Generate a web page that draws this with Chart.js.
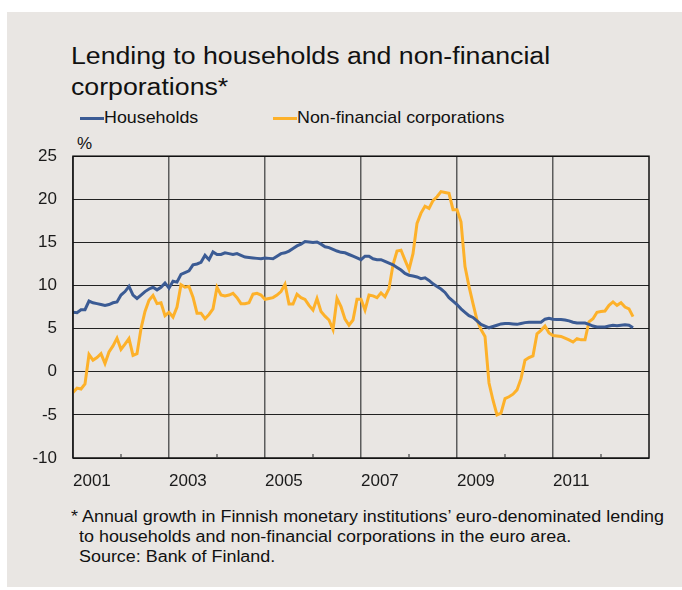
<!DOCTYPE html>
<html>
<head>
<meta charset="utf-8">
<script src="https://cdn.jsdelivr.net/npm/chart.js@4"></script>
<style>
  body { margin: 0; background: #fff; font-family: "Liberation Sans", Arial, sans-serif; color: #111; }
  #panel { position: absolute; left: 7px; top: 12px; width: 675px; height: 575px; background: #e9e6e3; }
  .txt { position: absolute; white-space: nowrap; transform-origin: left top; }
  #title { left: 71px; top: 41px; font-size: 23px; line-height: 31px; transform: scaleX(1.16); }
  .key { position: absolute; height: 3px; width: 24px; top: 117px; }
  .lbl { font-size: 17px; line-height: 20px; top: 108px; transform: scaleX(1.05); }
  #pct { left: 77px; top: 134px; font-size: 17px; line-height: 20px; }
  .note { font-size: 16px; line-height: 20px; transform: scaleX(1.12); }
  #wrap { position: absolute; left: 0; top: 130px; width: 682px; height: 370px; }
</style>
</head>
<body>
<div id="panel"></div>
<div id="title" class="txt">Lending to households and non-financial<br>corporations*</div>
<div class="key" style="left:80px;background:#3b5b94"></div>
<div class="txt lbl" style="left:104px">Households</div>
<div class="key" style="left:273px;background:#fdb12a"></div>
<div class="txt lbl" style="left:297px">Non-financial corporations</div>
<div id="pct" class="txt">%</div>
<div id="wrap"><canvas id="lending"></canvas></div>
<div class="txt note" style="left:71px;top:507px">* Annual growth in Finnish monetary institutions’ euro-denominated lending</div>
<div class="txt note" style="left:79px;top:527px">to households and non-financial corporations in the euro area.</div>
<div class="txt note" style="left:79px;top:547px">Source: Bank of Finland.</div>

<script>
// monthly series, January 2001 onwards
const startYear = 2001;

const households = [
  6.9, 6.85, 7.2, 7.2, 8.2, 8.0, 7.9, 7.8, 7.7, 7.8, 8.0, 8.1,
  8.9, 9.3, 9.9, 8.9, 8.5, 8.9, 9.3, 9.6, 9.8, 9.5, 9.8, 10.3,
  9.7, 10.5, 10.4, 11.3, 11.5, 11.7, 12.4, 12.5, 12.7, 13.5, 13.0, 13.9,
  13.6, 13.6, 13.8, 13.7, 13.6, 13.7, 13.5, 13.3, 13.25, 13.2, 13.15, 13.1,
  13.2, 13.15, 13.1, 13.4, 13.7, 13.8, 14.0, 14.3, 14.6, 14.8, 15.1, 15.05,
  15.0, 15.05, 14.8, 14.5, 14.4, 14.2, 14.0, 13.85, 13.8, 13.6, 13.4, 13.2,
  13.0, 13.4, 13.4, 13.1, 13.0, 13.0, 12.8, 12.6, 12.4, 12.1, 11.8, 11.4,
  11.2, 11.1, 11.0, 10.8, 10.9, 10.6, 10.2, 9.9, 9.6, 9.2, 8.6, 8.2,
  7.8, 7.3, 6.9, 6.5, 6.3, 5.9, 5.5, 5.3, 5.1, 5.25, 5.4, 5.55,
  5.6, 5.6, 5.55, 5.5, 5.6, 5.7, 5.75, 5.75, 5.75, 5.75, 6.1, 6.2,
  6.1, 6.05, 6.05, 6.0, 5.9, 5.75, 5.65, 5.65, 5.65, 5.5, 5.3, 5.2,
  5.2, 5.2, 5.3, 5.4, 5.35, 5.4, 5.45, 5.4, 5.1
];

const corporations = [
  -2.4, -1.9, -2.0, -1.4, 2.0, 1.35, 1.65, 2.1, 0.95, 2.3, 3.0, 3.9,
  2.6, 3.2, 3.85, 1.9, 2.1, 5.0, 7.0, 8.3, 8.85, 7.9, 8.0, 6.5,
  6.9, 6.35, 7.5, 10.1, 9.8, 9.9, 8.65, 6.8, 6.8, 6.15, 6.65, 7.3,
  9.8, 8.9, 8.8, 8.9, 9.1, 8.6, 7.9, 7.9, 8.0, 9.0, 9.1, 8.9,
  8.4, 8.5, 8.6, 8.9, 9.3, 10.15, 7.85, 7.85, 9.0, 8.6, 8.4, 7.7,
  7.15, 8.5, 7.0, 6.45, 6.0, 4.9, 8.5, 7.55, 6.1, 5.4, 6.0, 8.4,
  8.4, 7.15, 8.9, 8.8, 8.6, 9.15, 8.7, 9.65, 12.4, 14.0, 14.1, 12.95,
  11.85, 13.7, 17.2, 18.4, 19.2, 18.95, 19.85, 20.3, 20.9, 20.8, 20.7, 18.8,
  18.8, 17.4, 12.2, 9.9, 7.9, 6.0, 4.9, 4.1, -1.3, -3.3, -5.0, -4.8,
  -3.1, -2.9, -2.6, -2.1, -0.8, 1.35, 1.65, 1.85, 4.4, 4.8, 5.3, 4.5,
  4.2, 4.15, 4.1, 3.9, 3.7, 3.45, 3.85, 3.7, 3.7, 5.8, 6.15, 6.9,
  7.0, 7.05, 7.7, 8.1, 7.7, 8.0, 7.5, 7.3, 6.4
];

const yearTicks = [2001, 2003, 2005, 2007, 2009, 2011];

const toPoints = arr => arr.map((v, i) => ({ x: startYear + i / 12, y: v }));

// box round the plot and the short marks for the in-between years
const frame = {
  id: 'frame',
  afterDraw(chart) {
    const { ctx, chartArea: a, scales } = chart;
    ctx.save();
    ctx.strokeStyle = '#111';
    ctx.lineWidth = 1.5;
    ctx.strokeRect(a.left, a.top, a.right - a.left, a.bottom - a.top);
    ctx.lineWidth = 1.2;
    ctx.strokeStyle = '#444';
    for (let yr = 2002; yr < 2013; yr += 2) {
      const px = scales.x.getPixelForValue(yr);
      ctx.beginPath();
      ctx.moveTo(px, a.bottom);
      ctx.lineTo(px, a.bottom - 4);
      ctx.stroke();
    }
    ctx.restore();
  }
};

Chart.defaults.font.family = '"Liberation Sans", Arial, sans-serif';
Chart.defaults.font.size = 17;
Chart.defaults.color = '#1a1a1a';

new Chart(document.getElementById('lending'), {
  type: 'line',
  data: {
    datasets: [{
      label: 'Households',
      data: toPoints(households),
      borderColor: '#3b5b94',
      borderWidth: 3,
      pointRadius: 0
    }, {
      label: 'Non-financial corporations',
      data: toPoints(corporations),
      borderColor: '#fdb12a',
      borderWidth: 3,
      pointRadius: 0
    }]
  },
  options: {
    responsive: true,
    maintainAspectRatio: false,
    animation: false,
    layout: { padding: { top: 25, right: 33, bottom: 0, left: 0 } },
    plugins: {
      legend: { display: false },
      tooltip: { enabled: false }
    },
    scales: {
      x: {
        type: 'linear',
        min: 2001,
        max: 2013,
        afterFit: s => { s.height = 42; },
        grid: {
          drawTicks: false,
          lineWidth: 1.5,
          color: c => yearTicks.includes(c.tick && c.tick.value) ? '#5c5c5c' : 'rgba(0,0,0,0)'
        },
        border: { display: false },
        ticks: {
          stepSize: 1,
          autoSkip: false,
          maxRotation: 0,
          align: 'start',
          padding: 13,
          callback: v => yearTicks.includes(v) ? String(v) : ''
        }
      },
      y: {
        min: -10,
        max: 25,
        afterFit: s => { s.width = 73; },
        grid: { drawTicks: false, color: '#222', lineWidth: 1 },
        border: { display: false },
        ticks: { stepSize: 5, padding: 16 }
      }
    }
  },
  plugins: [frame]
});
</script>
</body>
</html>
